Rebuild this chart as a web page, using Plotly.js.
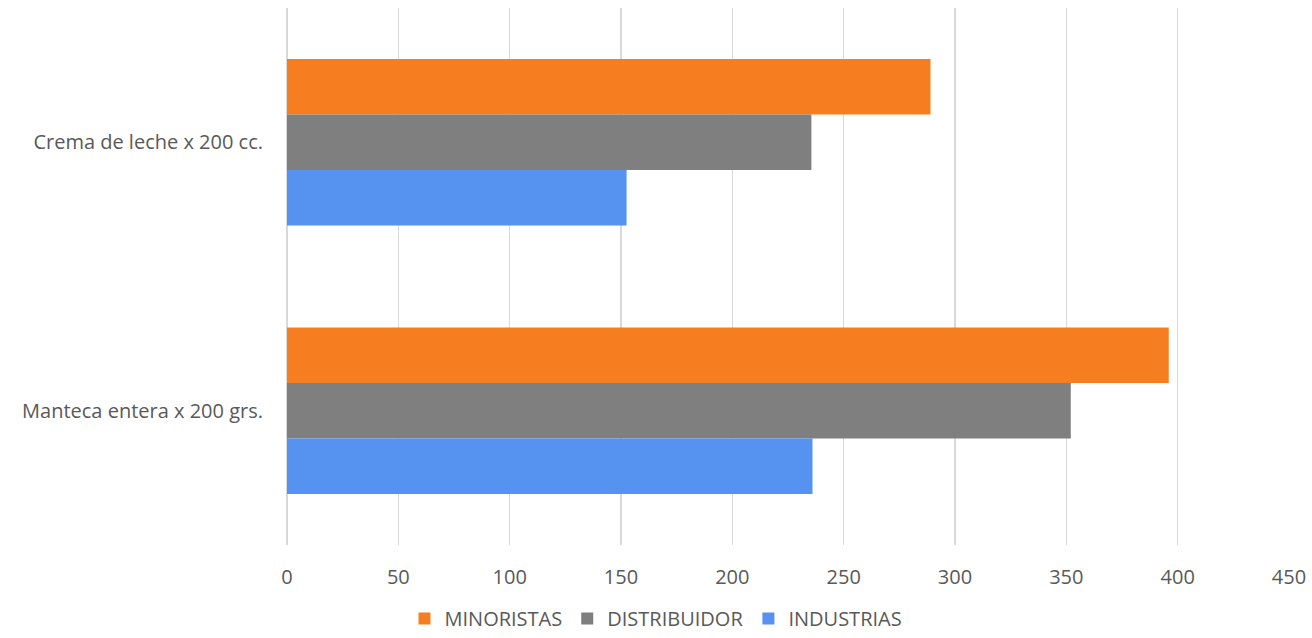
<!DOCTYPE html>
<html>
<head>
<meta charset="utf-8">
<script src="https://cdn.plot.ly/plotly-3.0.1.min.js"></script>
<style>html,body{margin:0;padding:0;background:#fff;}#chart{width:1312px;height:638px;}</style>
</head>
<body>
<div id="chart"></div>
<script>
const categories = ["Crema de leche x 200 cc.", "Manteca entera x 200 grs."];
const minoristas = [289, 396];
const distribuidor = [235.5, 352];
const industrias = [152.5, 236];
const seriesNames = ["MINORISTAS", "DISTRIBUIDOR", "INDUSTRIAS"];
const tickVals = [0, 50, 100, 150, 200, 250, 300, 350, 400, 450];

const colors = ["#F67E21", "#7F7F7F", "#5692EF"];
const seriesVals = [minoristas, distribuidor, industrias];

const traces = seriesNames.map((n, i) => ({
  type: "bar",
  orientation: "h",
  name: n,
  y: categories,
  x: seriesVals[i],
  marker: {color: colors[i], line: {width: 0}},
  hoverinfo: "x+name"
}));

const fontFam = "'Open Sans', sans-serif";

const layout = {
  width: 1312, height: 638,
  margin: {l: 287, r: 23, t: 8, b: 93},
  paper_bgcolor: "#fff", plot_bgcolor: "#fff",
  font: {family: fontFam, size: 20, color: "#595959"},
  barmode: "group",
  bargap: 0.38,
  bargroupgap: 0,
  xaxis: {
    range: [0, 450],
    tickvals: tickVals,
    ticktext: tickVals.map(String),
    showgrid: true, gridcolor: "#D9D9D9", gridwidth: 1.5,
    zeroline: true, zerolinecolor: "#D9D9D9", zerolinewidth: 1.5,
    showline: false, ticks: "", ticklabelstandoff: 18,
    tickfont: {family: fontFam, size: 20, color: "#595959"}
  },
  yaxis: {
    autorange: "reversed",
    showgrid: false, zeroline: false, showline: false, ticks: "",
    ticklabelstandoff: 23,
    tickfont: {family: fontFam, size: 20, color: "#595959"}
  },
  showlegend: true,
  legend: {
    orientation: "h",
    xref: "container", yref: "container",
    x: 0.5, xanchor: "center",
    y: 0.0, yanchor: "bottom",
    font: {family: fontFam, size: 20, color: "#595959"},
    traceorder: "normal"
  }
};

Plotly.newPlot("chart", traces, layout, {displayModeBar: false, staticPlot: true});
</script>
</body>
</html>
